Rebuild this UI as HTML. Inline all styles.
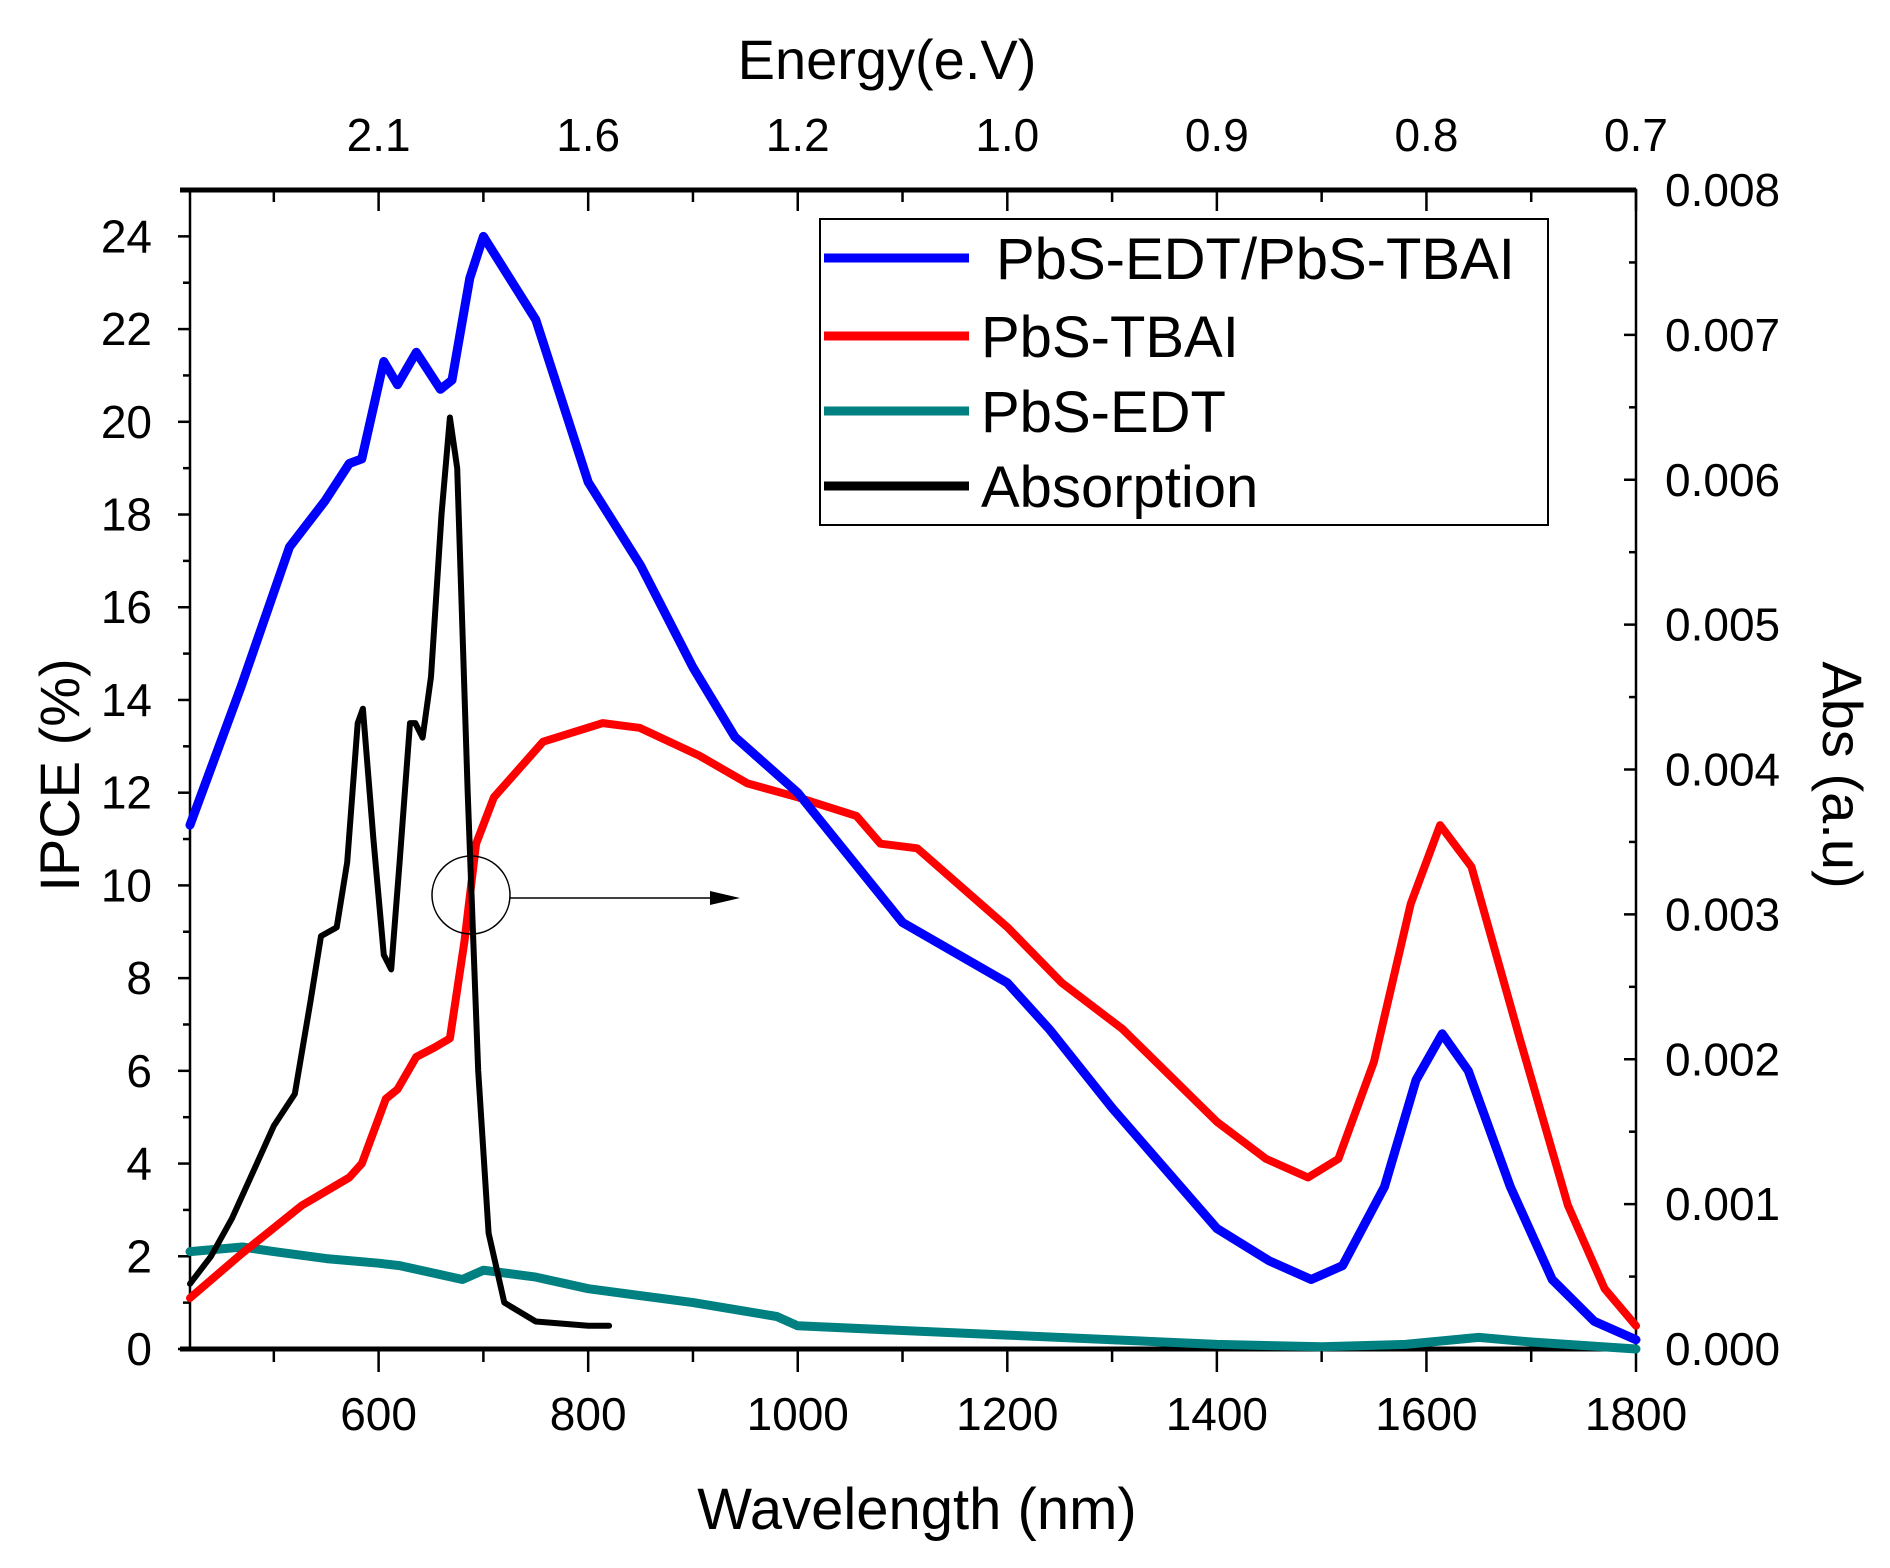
<!DOCTYPE html>
<html><head><meta charset="utf-8"><style>
html,body{margin:0;padding:0;background:#fff}
svg{display:block;font-family:"Liberation Sans",sans-serif}
</style></head><body>
<svg id="chart" width="1890" height="1568" viewBox="0 0 1890 1568" xmlns="http://www.w3.org/2000/svg">
<g id="axes"></g>
<g id="series"></g>
<g id="legend">
<rect x="820" y="219" width="728" height="306" fill="#fff" stroke="#000" stroke-width="2"/>
<line x1="824" y1="258" x2="969" y2="258" stroke="#0000ff" stroke-width="9"/>
<text x="996" y="279" font-size="58">PbS-EDT/PbS-TBAI</text>
<line x1="824" y1="336" x2="969" y2="336" stroke="#ff0000" stroke-width="9"/>
<text x="981" y="357" font-size="58">PbS-TBAI</text>
<line x1="824" y1="411" x2="969" y2="411" stroke="#008080" stroke-width="9"/>
<text x="981" y="432" font-size="58">PbS-EDT</text>
<line x1="824" y1="486" x2="969" y2="486" stroke="#000" stroke-width="9"/>
<text x="981" y="507" font-size="58">Absorption</text>
</g>
<g>
<circle cx="471" cy="895" r="39" fill="none" stroke="#000" stroke-width="1.5"/>
<line x1="510" y1="898" x2="715" y2="898" stroke="#000" stroke-width="1.5"/>
<polygon points="740,898 710,891 710,905" fill="#000"/>
</g>
<text x="917" y="1529" font-size="58" text-anchor="middle">Wavelength (nm)</text>
<text x="887" y="79" font-size="56" text-anchor="middle">Energy(e.V)</text>
<text transform="translate(79,775) rotate(-90)" font-size="56" text-anchor="middle">IPCE (%)</text>
<text transform="translate(1823,775) rotate(90)" font-size="56" text-anchor="middle">Abs (a.u)</text>
</svg>
<script>
const xTicks=[600,800,1000,1200,1400,1600,1800];
const energyLabels=["2.1","1.6","1.2","1.0","0.9","0.8","0.7"];
const yTicks=[0,2,4,6,8,10,12,14,16,18,20,22,24];
const y2Ticks=["0.000","0.001","0.002","0.003","0.004","0.005","0.006","0.007","0.008"];
const wlBlue=[420,469,515,549,572,584,605,618,636,659,670,687,700,750,800,850,900,940,1000,1100,1200,1240,1300,1400,1450,1490,1520,1560,1590,1615,1640,1680,1720,1760,1800];
const ipceBlue=[11.3,14.3,17.3,18.3,19.1,19.2,21.3,20.8,21.5,20.7,20.9,23.1,24,22.2,18.7,16.9,14.7,13.2,12,9.2,7.9,6.9,5.2,2.6,1.9,1.5,1.8,3.5,5.8,6.8,6,3.5,1.5,0.6,0.2];
const wlRed=[420,469,527,572,584,607,618,636,653,668,682,693,710,757,814,849,906,952,1000,1056,1079,1114,1200,1252,1310,1400,1447,1487,1516,1550,1585,1613,1643,1689,1735,1770,1800];
const ipceRed=[1.1,2.05,3.1,3.7,4,5.4,5.6,6.3,6.5,6.7,8.8,10.9,11.9,13.1,13.5,13.4,12.8,12.2,11.9,11.5,10.9,10.8,9.1,7.9,6.9,4.9,4.1,3.7,4.1,6.2,9.6,11.3,10.4,6.7,3.1,1.3,0.5];
const wlTeal=[420,470,500,550,600,620,680,700,750,800,900,980,1000,1100,1200,1300,1400,1500,1580,1650,1700,1800];
const ipceTeal=[2.1,2.2,2.1,1.95,1.85,1.8,1.5,1.7,1.55,1.3,1.0,0.7,0.5,0.4,0.3,0.2,0.1,0.05,0.1,0.25,0.15,0.0];
const wlAbs=[420,440,460,480,500,520,535,545,560,570,580,585,595,605,612,620,630,635,642,650,660,668,675,685,695,705,720,750,800,820];
const absVals=[0.00045,0.00064,0.0009,0.00122,0.00154,0.00176,0.0024,0.00285,0.00291,0.00336,0.00432,0.00442,0.00352,0.00272,0.00262,0.00336,0.00432,0.00432,0.00422,0.00464,0.00576,0.00643,0.00608,0.00384,0.00192,0.0008,0.00032,0.00019,0.00016,0.00016];

const L=190,R=1636,T=190,B=1349,XMIN=420,XMAX=1800,YMAX=25,Y2MAX=0.008;
const NS="http://www.w3.org/2000/svg";
function xs(v){return L+(v-XMIN)/(XMAX-XMIN)*(R-L);}
function ys(v){return B-v/YMAX*(B-T);}
function y2s(v){return B-v/Y2MAX*(B-T);}
function mk(tag,attrs,parent){const e=document.createElementNS(NS,tag);for(const k in attrs)e.setAttribute(k,attrs[k]);parent.appendChild(e);return e;}
const ax=document.getElementById('axes');
let e;
e=mk('rect',{x:L,y:T,width:R-L,height:B-T,fill:'none',stroke:'#000','stroke-width':2.5},ax);


e=mk('line',{x1:L-10,y1:B,x2:R,y2:B,stroke:'#000','stroke-width':5},ax);


e=mk('line',{x1:L-10,y1:T,x2:R,y2:T,stroke:'#000','stroke-width':5},ax);


for(let v=500;v<=1800;v+=100){
  const major=(v%200===0);const x=xs(v);
  e=mk('line',{x1:x,y1:B,x2:x,y2:B+(major?23:13),stroke:'#000','stroke-width':2.5},ax);
  
  
  e=mk('line',{x1:x,y1:T,x2:x,y2:T+(major?21:12),stroke:'#000','stroke-width':2.5},ax);
  
  
}
xTicks.forEach((v,i)=>{
  e=mk('text',{x:xs(v),y:1430,'font-size':46,'text-anchor':'middle'},ax);e.textContent=v;
  
  
  e=mk('text',{x:xs(v),y:151,'font-size':46,'text-anchor':'middle'},ax);e.textContent=energyLabels[i];
  
  
});
for(let v=0;v<=25;v+=1){
  const y=ys(v);const major=(v%2===0);
  e=mk('line',{x1:L-(major?12:7),y1:y,x2:L,y2:y,stroke:'#000','stroke-width':2.5},ax);
  
  
}
yTicks.forEach(v=>{
  e=mk('text',{x:152,y:ys(v)+16,'font-size':46,'text-anchor':'end'},ax);e.textContent=v;
  
  
});
for(let k=0;k<=16;k++){
  const v=k*0.0005;const y=y2s(v);const major=(k%2===0);
  e=mk('line',{x1:R-(major?12:7),y1:y,x2:R,y2:y,stroke:'#000','stroke-width':2.5},ax);
  
  
}
y2Ticks.forEach(s=>{
  e=mk('text',{x:1665,y:y2s(parseFloat(s))+16,'font-size':46},ax);e.textContent=s;
  
  
});
const sg=document.getElementById('series');
function line(xsArr,ysArr,yfn,color,w,name){
  const d=xsArr.map((v,i)=>(i?'L':'M')+xs(v).toFixed(1)+','+yfn(ysArr[i]).toFixed(1)).join(' ');
  const p=mk('path',{d:d,fill:'none',stroke:color,'stroke-width':w,'stroke-linejoin':'round','stroke-linecap':'round'},sg);
  
  
}
line(wlTeal,ipceTeal,ys,'#008080',9,'series-pbs-edt');
line(wlRed,ipceRed,ys,'#ff0000',8,'series-pbs-tbai');
line(wlBlue,ipceBlue,ys,'#0000ff',9,'series-pbs-edt-tbai');
line(wlAbs,absVals,y2s,'#000',6,'series-absorption');
</script>
</body></html>
